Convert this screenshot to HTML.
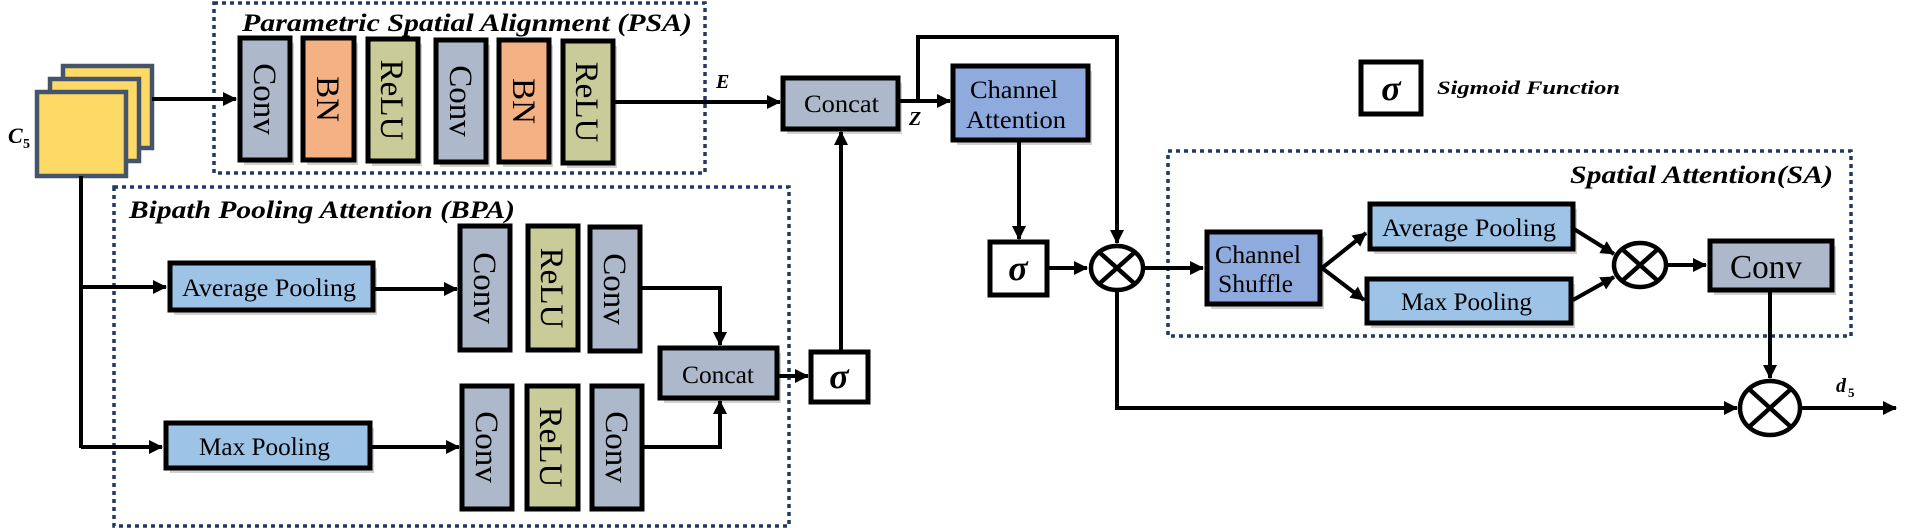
<!DOCTYPE html>
<html><head><meta charset="utf-8"><style>
html,body{margin:0;padding:0;background:#fff;}
svg{display:block;}
text{font-family:"Liberation Serif",serif;}
.t{font-style:italic;font-weight:bold;font-size:25px;}
</style></head><body>
<svg width="1913" height="528" viewBox="0 0 1913 528" xmlns="http://www.w3.org/2000/svg">
<defs>
<marker id="b" markerWidth="14" markerHeight="14" refX="13" refY="7" orient="auto" markerUnits="userSpaceOnUse"><path d="M0,0 L14,7 L0,14 z" fill="#000"/></marker>
</defs>
<g fill="none" stroke="#1F3864" stroke-width="3.5" stroke-dasharray="4,4">
<rect x="214" y="3" width="491" height="170"/>
<rect x="114" y="187" width="675" height="339"/>
<rect x="1168" y="151" width="683" height="185"/>
</g>
<text class="t" x="242" y="31" textLength="450" lengthAdjust="spacingAndGlyphs">Parametric Spatial Alignment (PSA)</text>
<text class="t" x="129" y="218" textLength="386" lengthAdjust="spacingAndGlyphs">Bipath Pooling Attention (BPA)</text>
<text class="t" x="1570" y="183" textLength="263" lengthAdjust="spacingAndGlyphs">Spatial Attention(SA)</text>
<!-- cards -->
<g fill="#FFD966" stroke="#44546A" stroke-width="4.5">
<rect x="63" y="66" width="89" height="82"/>
<rect x="50" y="79" width="89" height="82"/>
<rect x="37" y="92" width="89" height="84"/>
</g>
<text x="8" y="143" font-style="italic" font-weight="bold" font-size="22">C</text><text x="23" y="148" font-weight="bold" font-size="14">5</text>
<!-- connectors -->
<g stroke="#000" stroke-width="4" fill="none">
<line x1="152" y1="99" x2="236" y2="99" marker-end="url(#b)"/>
<line x1="613" y1="102" x2="780" y2="102" marker-end="url(#b)"/>
<polyline points="81,176 81,448"/>
<line x1="81" y1="287" x2="166" y2="287" marker-end="url(#b)"/>
<line x1="81" y1="447" x2="162" y2="447" marker-end="url(#b)"/>
<line x1="373" y1="289" x2="457" y2="289" marker-end="url(#b)"/>
<line x1="370" y1="447" x2="459" y2="447" marker-end="url(#b)"/>
<polyline points="640,288 720,288 720,345" marker-end="url(#b)"/>
<polyline points="642,447 720,447 720,401" marker-end="url(#b)"/>
<line x1="777" y1="376" x2="808" y2="376" marker-end="url(#b)"/>
<line x1="841" y1="352" x2="841" y2="132" marker-end="url(#b)"/>
<line x1="898" y1="101" x2="950" y2="101" marker-end="url(#b)"/>
<polyline points="918,101 918,37 1117,37 1117,243" marker-end="url(#b)"/>
<line x1="1019" y1="140" x2="1019" y2="239" marker-end="url(#b)"/>
<line x1="1047" y1="268" x2="1087" y2="268" marker-end="url(#b)"/>
<line x1="1144" y1="268" x2="1203" y2="268" marker-end="url(#b)"/>
<line x1="1322" y1="268" x2="1366" y2="233" marker-end="url(#b)"/>
<line x1="1322" y1="268" x2="1364" y2="300" marker-end="url(#b)"/>
<line x1="1574" y1="229" x2="1614" y2="254" marker-end="url(#b)"/>
<line x1="1573" y1="300" x2="1614" y2="277" marker-end="url(#b)"/>
<line x1="1667" y1="265" x2="1706" y2="265" marker-end="url(#b)"/>
<line x1="1770" y1="291" x2="1770" y2="378" marker-end="url(#b)"/>
<polyline points="1117,290 1117,408 1737,408" marker-end="url(#b)"/>
<line x1="1801" y1="408" x2="1896" y2="408" marker-end="url(#b)"/>
</g>
<text x="716" y="88" font-style="italic" font-weight="bold" font-size="20">E</text>
<text x="909" y="125" font-style="italic" font-weight="bold" font-size="20">Z</text>
<text x="1836" y="392" font-style="italic" font-weight="bold" font-size="20">d</text><text x="1848" y="397" font-weight="bold" font-size="13">5</text>
<!-- shadows -->
<g fill="#000" opacity="0.18">
<rect x="244" y="43" width="50" height="122"/><rect x="307" y="43" width="51" height="122"/><rect x="372" y="44" width="50" height="122"/>
<rect x="440" y="45" width="50" height="122"/><rect x="503" y="45" width="50" height="122"/><rect x="567" y="46" width="50" height="122"/>
<rect x="174" y="268" width="203" height="47"/><rect x="170" y="428" width="204" height="45"/>
<rect x="787" y="83" width="115" height="51"/><rect x="664" y="353" width="117" height="50"/>
<rect x="957" y="71" width="135" height="74"/><rect x="1211" y="237" width="113" height="72"/>
<rect x="1374" y="209" width="203" height="45"/><rect x="1371" y="284" width="204" height="44"/><rect x="1714" y="246" width="122" height="49"/>
</g>
<!-- boxes -->
<g stroke="#000" stroke-width="5">
<rect x="240" y="38" width="50" height="122" fill="#ADB9CA"/>
<rect x="303" y="38" width="51" height="122" fill="#F4B183"/>
<rect x="368" y="39" width="50" height="122" fill="#C9CC99"/>
<rect x="436" y="40" width="50" height="122" fill="#ADB9CA"/>
<rect x="499" y="40" width="50" height="122" fill="#F4B183"/>
<rect x="563" y="41" width="50" height="122" fill="#C9CC99"/>
<rect x="460" y="226" width="50" height="124" fill="#ADB9CA"/>
<rect x="528" y="226" width="50" height="124" fill="#C9CC99"/>
<rect x="590" y="227" width="50" height="124" fill="#ADB9CA"/>
<rect x="462" y="386" width="50" height="123" fill="#ADB9CA"/>
<rect x="527" y="386" width="51" height="123" fill="#C9CC99"/>
<rect x="592" y="386" width="50" height="123" fill="#ADB9CA"/>
<rect x="170" y="263" width="203" height="47" fill="#9DC3E6"/>
<rect x="166" y="423" width="204" height="45" fill="#9DC3E6"/>
<rect x="783" y="78" width="115" height="51" fill="#ADB9CA"/>
<rect x="660" y="348" width="117" height="50" fill="#ADB9CA"/>
<rect x="953" y="66" width="135" height="74" fill="#8FAADC"/>
<rect x="1207" y="232" width="113" height="72" fill="#8FAADC"/>
<rect x="1370" y="204" width="203" height="45" fill="#9DC3E6"/>
<rect x="1367" y="279" width="204" height="44" fill="#9DC3E6"/>
<rect x="1710" y="241" width="122" height="49" fill="#ADB9CA"/>
<rect x="811" y="352" width="57" height="50" fill="#fff"/>
<rect x="990" y="242" width="57" height="53" fill="#fff"/>
<rect x="1361" y="62" width="60" height="52" fill="#fff"/>
</g>
<!-- otimes -->
<g stroke="#000" stroke-width="4.5" fill="#fff">
<ellipse cx="1117" cy="268" rx="26" ry="22"/>
<ellipse cx="1640" cy="265" rx="26" ry="22"/>
<ellipse cx="1770" cy="408" rx="30" ry="27"/>
</g>
<g stroke="#000" stroke-width="4.5">
<line x1="1099" y1="252" x2="1135" y2="284"/><line x1="1135" y1="252" x2="1099" y2="284"/>
<line x1="1622" y1="249" x2="1658" y2="281"/><line x1="1658" y1="249" x2="1622" y2="281"/>
<line x1="1749" y1="389" x2="1791" y2="427"/><line x1="1791" y1="389" x2="1749" y2="427"/>
</g>
<!-- rotated labels -->
<g font-size="33" fill="#000">
<text transform="translate(254,99) rotate(90)" text-anchor="middle">Conv</text>
<text transform="translate(317,99) rotate(90)" text-anchor="middle">BN</text>
<text transform="translate(381,100) rotate(90)" text-anchor="middle">ReLU</text>
<text transform="translate(450,101) rotate(90)" text-anchor="middle">Conv</text>
<text transform="translate(513,101) rotate(90)" text-anchor="middle">BN</text>
<text transform="translate(576,102) rotate(90)" text-anchor="middle">ReLU</text>
<text transform="translate(474,288) rotate(90)" text-anchor="middle">Conv</text>
<text transform="translate(541,288) rotate(90)" text-anchor="middle">ReLU</text>
<text transform="translate(604,289) rotate(90)" text-anchor="middle">Conv</text>
<text transform="translate(476,447) rotate(90)" text-anchor="middle">Conv</text>
<text transform="translate(540,447) rotate(90)" text-anchor="middle">ReLU</text>
<text transform="translate(606,447) rotate(90)" text-anchor="middle">Conv</text>
</g>
<g font-size="25" fill="#000" font-family="Liberation Serif, serif" lengthAdjust="spacingAndGlyphs">
<text x="182" y="296" textLength="174" lengthAdjust="spacingAndGlyphs">Average Pooling</text>
<text x="199" y="455" textLength="131" lengthAdjust="spacingAndGlyphs">Max Pooling</text>
<text x="804" y="112" textLength="75" lengthAdjust="spacingAndGlyphs">Concat</text>
<text x="682" y="383" textLength="72" lengthAdjust="spacingAndGlyphs">Concat</text>
<text x="970" y="98" textLength="88" lengthAdjust="spacingAndGlyphs">Channel</text>
<text x="966" y="128" textLength="100" lengthAdjust="spacingAndGlyphs">Attention</text>
<text x="1215" y="263" textLength="86" lengthAdjust="spacingAndGlyphs">Channel</text>
<text x="1218" y="292" textLength="75" lengthAdjust="spacingAndGlyphs">Shuffle</text>
<text x="1382" y="236" textLength="174" lengthAdjust="spacingAndGlyphs">Average Pooling</text>
<text x="1401" y="310" textLength="131" lengthAdjust="spacingAndGlyphs">Max Pooling</text>
<text x="1730" y="278" font-size="34" textLength="72" lengthAdjust="spacingAndGlyphs">Conv</text>
</g>
<g font-size="36" font-style="italic" font-weight="bold" text-anchor="middle">
<text x="839" y="388">σ</text>
<text x="1018" y="280">σ</text>
<text x="1391" y="100">σ</text>
</g>
<text x="1437" y="94" font-style="italic" font-weight="bold" font-size="19" textLength="183" lengthAdjust="spacingAndGlyphs">Sigmoid Function</text>
</svg>
</body></html>
